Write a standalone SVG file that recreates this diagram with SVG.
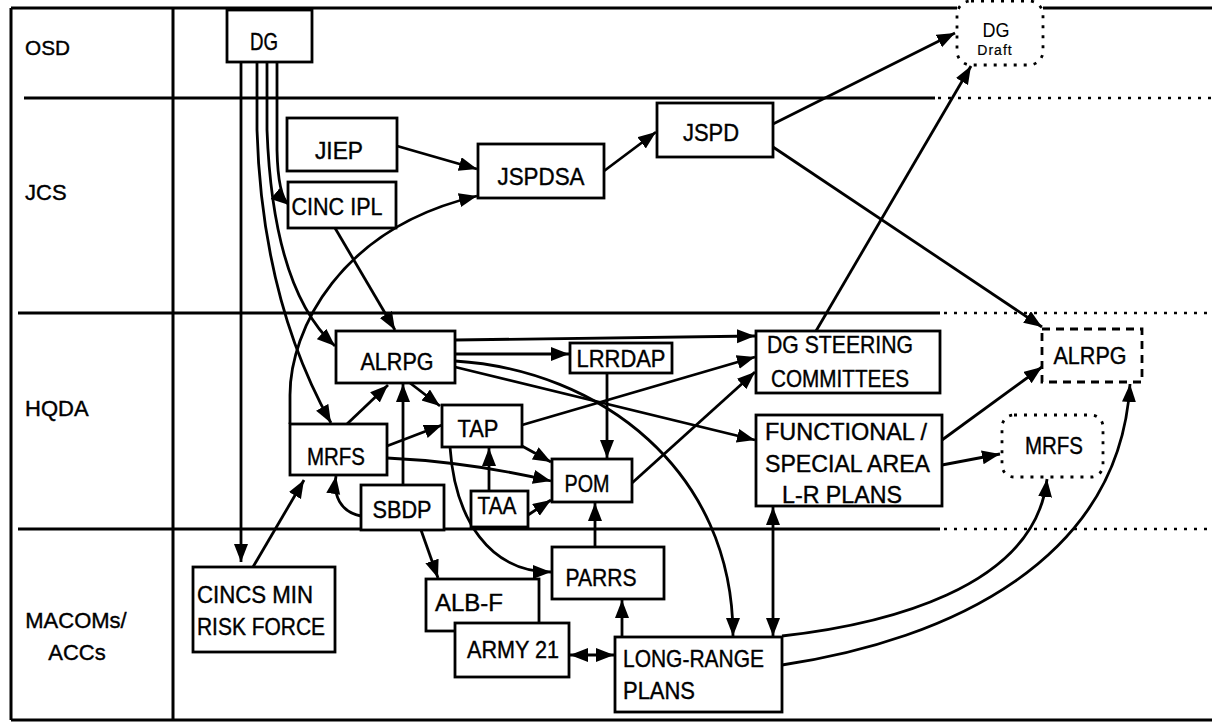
<svg xmlns="http://www.w3.org/2000/svg" width="1212" height="724" viewBox="0 0 1212 724">
<defs>
<marker id="ah" markerUnits="userSpaceOnUse" markerWidth="19" markerHeight="15" refX="18" refY="7" orient="auto-start-reverse"><path d="M0,0 L18,7 L0,14 z" fill="#000"/></marker>
<style>
.frame{stroke:#000;stroke-width:3;fill:none}
.dotl{stroke:#000;stroke-width:2.5;fill:none;stroke-dasharray:3 7}
.n rect{fill:#fff;stroke:#000;stroke-width:2.8}
.n rect.dot{stroke-dasharray:3 7}
.n rect.dash{stroke-dasharray:8 6}
text{font-family:"Liberation Sans",Arial,Helvetica,sans-serif;font-size:24px;fill:#000;stroke:#000;stroke-width:0.4}
.m{text-anchor:middle}
.lane{font-size:21px}
.c path{fill:none;stroke:#000;stroke-width:2.8;marker-end:url(#ah)}
.c path.both{marker-start:url(#ah)}
</style>
</defs>
<rect width="1212" height="724" fill="#fff"/>
<g id="frame">
<path class="frame" d="M11,8 H957 M1043,8 H1212 M11,8 V720 M173,8 V720 M11,720 H1212 M24,98 H935 M18,313 H940 M18,529 H940"/>
<path class="dotl" d="M938,98 H1212 M944,313 H1212 M944,529 H1212"/>
</g>
<g id="lanes">
<text class="lane" x="25" y="55" textLength="45" lengthAdjust="spacingAndGlyphs">OSD</text>
<text class="lane" x="25" y="200" style="font-size:22px">JCS</text>
<text class="lane" x="25" y="416" style="font-size:22px">HQDA</text>
<text class="lane m" x="76" y="628" style="font-size:22px">MACOMs/</text>
<text class="lane m" x="77" y="660" style="font-size:22px">ACCs</text>
</g>
<g class="c" id="connectors">
<path d="M241,62 L241,562"/>
<path d="M277,62 L277,150 Q278,196 289,205"/>
<path d="M267,62 L267,130 Q273,290 335,346"/>
<path d="M257,62 L257,130 Q262,300 331,423"/>
<path d="M397,146 L477,169"/>
<path d="M604,171 L656,132"/>
<path d="M773,124 L955,33"/>
<path d="M773,147 L1042,327"/>
<path d="M816,331 L971,66"/>
<path d="M335,228 L395,330"/>
<path d="M290,424 L290,395 C290,330 340,228 477,196"/>
<path d="M455,354 L569,354"/>
<path d="M455,340 L755,336"/>
<path d="M455,367 L755,440"/>
<path d="M455,361 C600,370 733,470 733,636"/>
<path d="M607,373 L607,458"/>
<path d="M522,425 L755,357"/>
<path d="M632,483 L755,372"/>
<path d="M410,383 L440,406"/>
<path d="M347,424 L388,385"/>
<path d="M387,446 L442,425"/>
<path d="M387,458 Q470,462 551,481"/>
<path d="M522,446 L551,462"/>
<path d="M489,491 L489,448"/>
<path d="M528,515 L551,500"/>
<path d="M361,516 C340,512 333,495 336,476"/>
<path d="M403,485 L403,384"/>
<path d="M421,530 L438,578"/>
<path d="M450,447 C455,520 490,572 551,572"/>
<path d="M595,547 L595,503"/>
<path d="M622,637 L622,600"/>
<path class="both" d="M570,655 L614,655"/>
<path class="both" d="M773,507 L773,636"/>
<path d="M942,440 L1042,367"/>
<path d="M942,465 L1000,454"/>
<path d="M782,636 C880,625 1035,590 1047,479"/>
<path d="M782,665 C950,640 1120,560 1130,384"/>
<path d="M253,567 L304,480"/>
</g>
<g class="n" id="n-dg"><rect x="227" y="10" width="85" height="52"/><text class="m" x="264" y="50" textLength="28" lengthAdjust="spacingAndGlyphs">DG</text></g>
<g class="n" id="n-dgdraft"><rect class="dot" x="957" y="1" width="86" height="64" rx="14"/><text class="m" x="996" y="37" style="font-size:21px;stroke-width:0" textLength="27" lengthAdjust="spacingAndGlyphs">DG</text><text class="m" x="995" y="55" style="font-size:14px;letter-spacing:1px;stroke-width:0.2">Draft</text></g>
<g class="n" id="n-jiep"><rect x="287" y="118" width="110" height="53"/><text class="m" x="339" y="159" textLength="48" lengthAdjust="spacingAndGlyphs">JIEP</text></g>
<g class="n" id="n-cincipl"><rect x="288" y="182" width="108" height="46"/><text class="m" x="337" y="215" textLength="91" lengthAdjust="spacingAndGlyphs">CINC IPL</text></g>
<g class="n" id="n-jspdsa"><rect x="478" y="144" width="126" height="54"/><text class="m" x="541" y="185" textLength="87" lengthAdjust="spacingAndGlyphs">JSPDSA</text></g>
<g class="n" id="n-jspd"><rect x="657" y="103" width="116" height="54"/><text class="m" x="711" y="141" textLength="56" lengthAdjust="spacingAndGlyphs">JSPD</text></g>
<g class="n" id="n-alrpg"><rect x="336" y="331" width="119" height="52"/><text class="m" x="397" y="370" textLength="73" lengthAdjust="spacingAndGlyphs">ALRPG</text></g>
<g class="n" id="n-lrrdap"><rect x="570" y="343" width="102" height="30"/><text class="m" x="621" y="367" textLength="89" lengthAdjust="spacingAndGlyphs">LRRDAP</text></g>
<g class="n" id="n-dgsteer"><rect x="756" y="331" width="184" height="62"/><text x="767" y="353" textLength="146" lengthAdjust="spacingAndGlyphs">DG STEERING</text><text x="771" y="387" textLength="138" lengthAdjust="spacingAndGlyphs">COMMITTEES</text></g>
<g class="n" id="n-functional"><rect x="756" y="415" width="186" height="91"/><text x="765" y="440" textLength="162" lengthAdjust="spacingAndGlyphs">FUNCTIONAL /</text><text x="765" y="472" textLength="165" lengthAdjust="spacingAndGlyphs">SPECIAL AREA</text><text x="782" y="503" textLength="120" lengthAdjust="spacingAndGlyphs">L-R PLANS</text></g>
<g class="n" id="n-alrpg2"><rect class="dash" x="1042" y="329" width="100" height="53"/><text class="m" x="1090" y="364" textLength="73" lengthAdjust="spacingAndGlyphs">ALRPG</text></g>
<g class="n" id="n-mrfs2"><rect class="dot" x="1002" y="415" width="101" height="62" rx="12"/><text class="m" x="1054" y="454" textLength="58" lengthAdjust="spacingAndGlyphs">MRFS</text></g>
<g class="n" id="n-tap"><rect x="442" y="405" width="80" height="42"/><text class="m" x="478" y="437" textLength="41" lengthAdjust="spacingAndGlyphs">TAP</text></g>
<g class="n" id="n-mrfs"><rect x="290" y="424" width="97" height="51"/><text class="m" x="336" y="465" textLength="58" lengthAdjust="spacingAndGlyphs">MRFS</text></g>
<g class="n" id="n-sbdp"><rect x="361" y="485" width="83" height="45"/><text class="m" x="402" y="518" textLength="59" lengthAdjust="spacingAndGlyphs">SBDP</text></g>
<g class="n" id="n-taa"><rect x="471" y="491" width="57" height="36"/><text class="m" x="497" y="514" textLength="39" lengthAdjust="spacingAndGlyphs">TAA</text></g>
<g class="n" id="n-pom"><rect x="552" y="459" width="80" height="43"/><text class="m" x="587" y="492" textLength="45" lengthAdjust="spacingAndGlyphs">POM</text></g>
<g class="n" id="n-parrs"><rect x="552" y="547" width="112" height="52"/><text class="m" x="601" y="586" textLength="71" lengthAdjust="spacingAndGlyphs">PARRS</text></g>
<g class="n" id="n-albf"><rect x="426" y="579" width="113" height="52"/><text x="435" y="611" textLength="68" lengthAdjust="spacingAndGlyphs">ALB-F</text></g>
<g class="n" id="n-army21"><rect x="455" y="623" width="114" height="54"/><text class="m" x="513" y="658" textLength="92" lengthAdjust="spacingAndGlyphs">ARMY 21</text></g>
<g class="n" id="n-lrp"><rect x="615" y="637" width="167" height="75"/><text x="623" y="667" textLength="141" lengthAdjust="spacingAndGlyphs">LONG-RANGE</text><text x="623" y="699" textLength="72" lengthAdjust="spacingAndGlyphs">PLANS</text></g>
<g class="n" id="n-cincs"><rect x="193" y="567" width="142" height="85"/><text x="197" y="603" textLength="116" lengthAdjust="spacingAndGlyphs">CINCS MIN</text><text x="197" y="635" textLength="128" lengthAdjust="spacingAndGlyphs">RISK FORCE</text></g>
</svg>
